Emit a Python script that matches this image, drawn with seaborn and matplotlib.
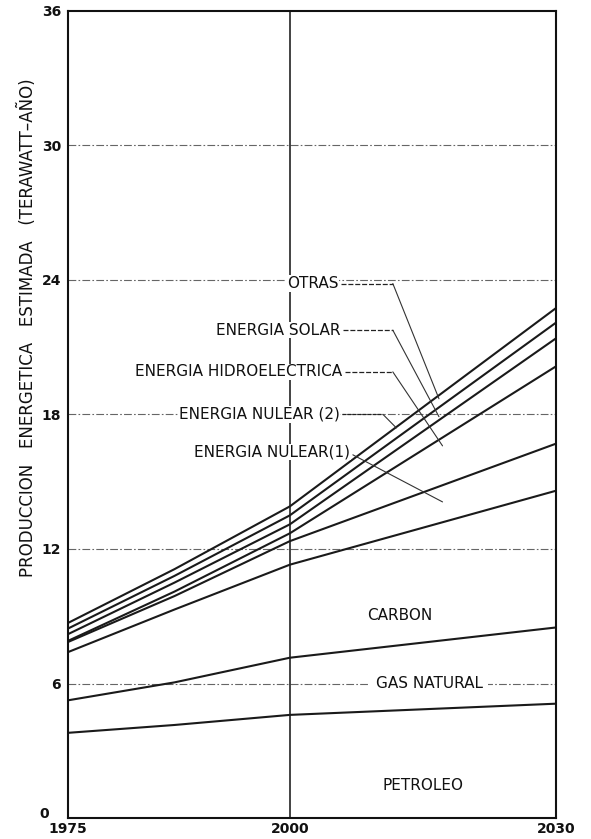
import numpy as np
import pandas as pd
import seaborn as sns
import matplotlib.pyplot as plt
from matplotlib.transforms import ScaledTranslation

# upper boundary of each stacked source (terawatt-year)
years = [1975, 1987, 2000, 2030]
petroleo = [3.8, 4.15, 4.6, 5.1]
gas_natural = [5.25, 6.05, 7.15, 8.5]
carbon = [7.4, 9.3, 11.3, 14.6]
nuclear_1 = [7.85, 9.9, 12.35, 16.7]
nuclear_2 = [7.9, 10.1, 12.7, 20.15]
hidro = [8.2, 10.5, 13.1, 21.4]
solar = [8.45, 10.8, 13.5, 22.1]
otras = [8.7, 11.1, 13.9, 22.75]

series_names = ["PETROLEO", "GAS NATURAL", "CARBON", "ENERGIA NULEAR(1)",
                "ENERGIA NULEAR (2)", "ENERGIA HIDROELECTRICA", "ENERGIA SOLAR", "OTRAS"]
series_values = [petroleo, gas_natural, carbon, nuclear_1, nuclear_2, hidro, solar, otras]

x_ticks = [1975, 2000, 2030]
y_ticks = [0, 6, 12, 18, 24, 30, 36]

df = pd.DataFrame({"anio": years})
for name, vals in zip(series_names, series_values):
    df[name] = vals
long = df.melt(id_vars="anio", var_name="serie", value_name="valor")

sns.set_style("white")
plt.rcParams['font.family'] = ['DejaVu Sans']

fig = plt.figure(figsize=(5.91, 8.39), dpi=100)
ax = fig.add_axes([0.115, 0.025, 0.826, 0.962])

# grid
for y in y_ticks[1:-1]:
    ax.axhline(y, color="#666666", lw=0.8, ls=(0, (7, 2, 1.5, 2)), zorder=1)
ax.axvline(2000, color="#111111", lw=1.1, zorder=1)

sns.lineplot(data=long, x="anio", y="valor", hue="serie", palette=["#1a1a1a"] * 8,
             linewidth=1.5, legend=False, estimator=None, sort=False, ax=ax, zorder=2)

ax.set_xlim(1975, 2030)
ax.set_ylim(0, 36)
ax.set_xticks(x_ticks)
ax.set_yticks(y_ticks)
ax.tick_params(length=0, labelsize=10, colors="#111111")
ax.tick_params(axis="y", pad=5)
ax.tick_params(axis="x", pad=3)
for lab in ax.get_xticklabels() + ax.get_yticklabels():
    lab.set_fontweight("bold")
# the "0" sits a bit higher and further left than the others
zero = ax.get_yticklabels()[0]
zero.set_transform(zero.get_transform() + ScaledTranslation(-9 / 72, 4 / 72, fig.dpi_scale_trans))
ax.set_xlabel("")
ax.set_ylabel("")
for s in ax.spines.values():
    s.set_color("#111111")
    s.set_linewidth(1.5)

fig.text(0.046, 1 - 328 / 839, "PRODUCCION   ENERGETICA   ESTIMADA   (TERAWATT\u2013AÑO)",
         rotation=90, ha="center", va="center", fontsize=12, color="#111111")

box = dict(facecolor="white", edgecolor="none", pad=0.6)

# labels of the upper sources with leader lines
upper_labels = [
    ("OTRAS", 2005.5, 23.84, 2016.8, 18.7),
    ("ENERGIA SOLAR", 2005.7, 21.76, 2016.8, 17.9),
    ("ENERGIA HIDROELECTRICA", 2005.9, 19.9, 2017.2, 16.6),
]
for text, xe, ye, xt, yt in upper_labels:
    ax.text(xe, ye, text, ha="right", va="center", fontsize=11, color="#111111",
            bbox=box, zorder=4)
    ax.plot([xe + 0.3, 2011.6], [ye, ye], color="#222222", lw=0.9, ls=(0, (4, 1.5)), zorder=3)
    ax.plot([2011.6, xt], [ye, yt], color="#333333", lw=0.8, zorder=3)

ax.text(2005.6, 18.0, "ENERGIA NULEAR (2)", ha="right", va="center", fontsize=11,
        color="#111111", bbox=box, zorder=4)
ax.plot([2005.9, 2010.5], [18.0, 18.0], color="#222222", lw=0.9, ls=(0, (3, 1)), zorder=3)
ax.plot([2010.5, 2012.0], [18.0, 17.4], color="#333333", lw=0.8, zorder=3)

ax.text(2006.8, 16.32, "ENERGIA NULEAR(1)", ha="right", va="center", fontsize=11,
        color="#111111", bbox=box, zorder=4)
ax.plot([2007.1, 2017.2], [16.2, 14.1], color="#333333", lw=0.8, zorder=3)

# labels of the lower sources
ax.text(2012.4, 9.04, "CARBON", ha="center", va="center", fontsize=11, color="#111111", zorder=4)
ax.text(2015.7, 6.0, "GAS NATURAL", ha="center", va="center", fontsize=11, color="#111111",
        bbox=dict(facecolor="white", edgecolor="none", pad=4), zorder=4)
ax.text(2015.0, 1.44, "PETROLEO", ha="center", va="center", fontsize=11, color="#111111", zorder=4)

fig.savefig("out.png", dpi=100)
